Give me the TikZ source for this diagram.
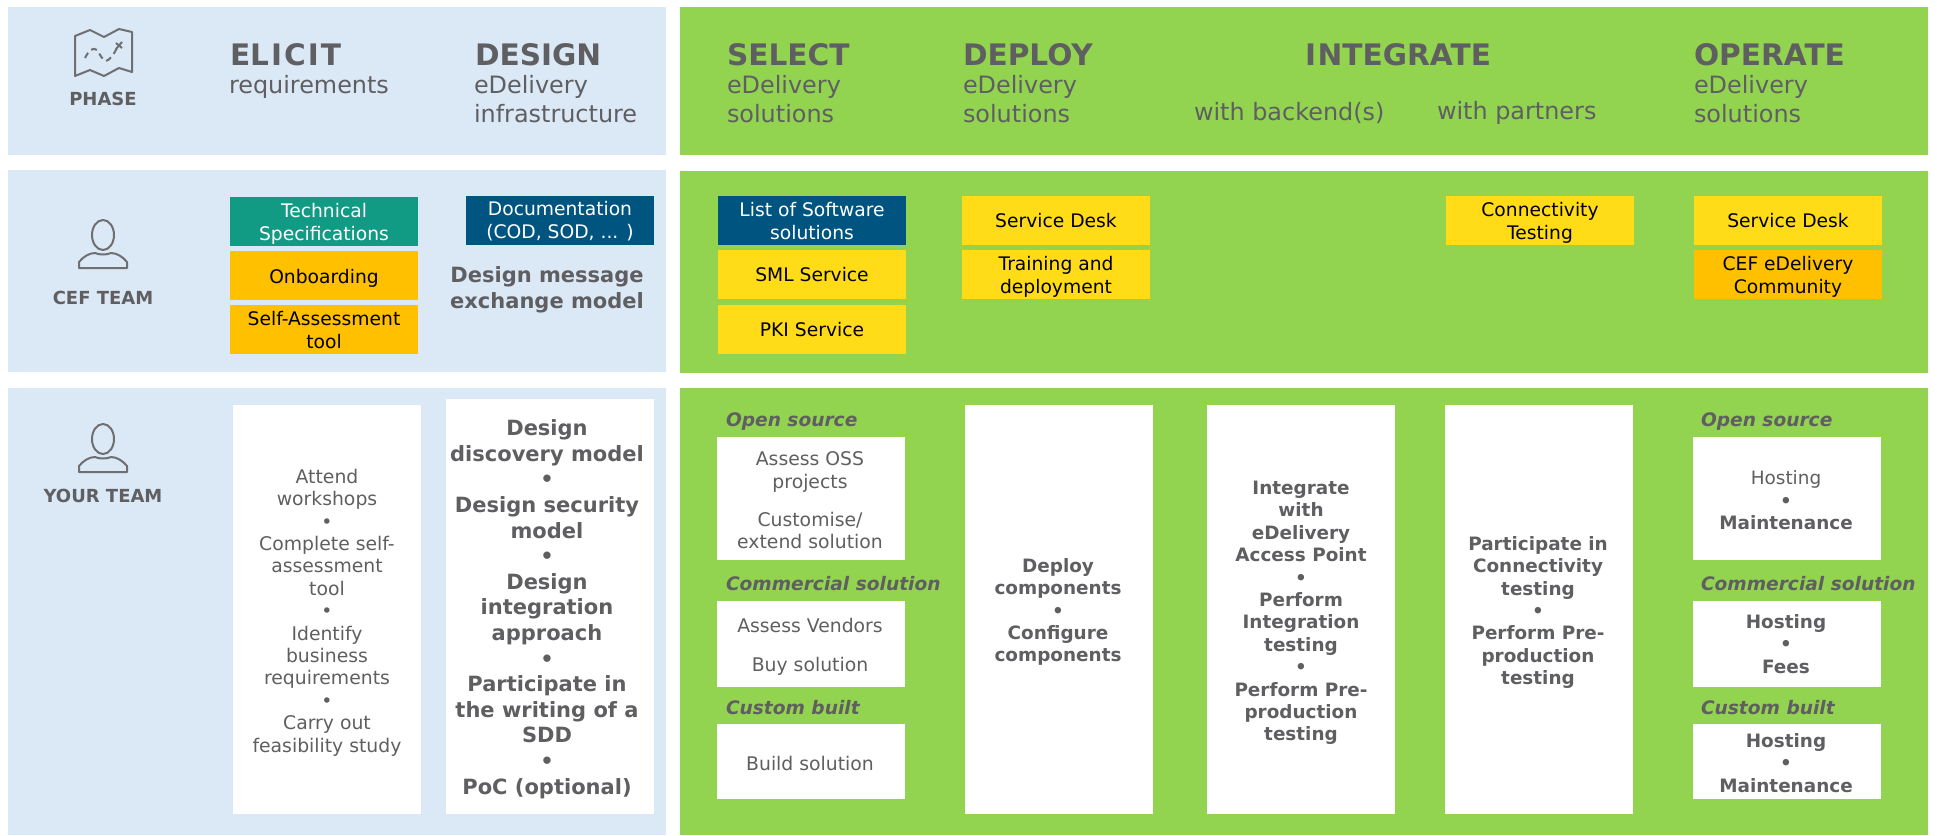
\documentclass[tikz,border=0pt]{standalone}
\usepackage{fontspec}
\setmainfont{DejaVu Sans}
\definecolor{panelblue}{HTML}{DBE8F6}
\definecolor{panelgreen}{HTML}{92D350}
\definecolor{tealbox}{HTML}{119B84}
\definecolor{navybox}{HTML}{005580}
\definecolor{amberbox}{HTML}{FFC000}
\definecolor{yellowbox}{HTML}{FFDC17}
\definecolor{greytext}{HTML}{5F5F62}
\tikzset{
  plain/.style={inner sep=0pt, outer sep=0pt, align=center, text=greytext},
  title/.style={plain, anchor=base west, font=\fontsize{14.8}{18}\selectfont\bfseries},
  subtitle/.style={plain, align=left, anchor=west, font=\fontsize{11.95}{14.3}\selectfont},
  rowlabel/.style={plain, font=\fontsize{9}{11}\selectfont\bfseries},
  kindlabel/.style={plain, anchor=west, font=\fontsize{9.3}{11}\selectfont\bfseries\itshape},
  lighttext/.style={plain, font=\fontsize{9.4}{11.2}\selectfont},
  boldtext/.style={plain, font=\fontsize{9.2}{11.2}\selectfont\bfseries},
  bigtext/.style={plain, font=\fontsize{10.5}{12.8}\selectfont\bfseries},
  boxtext/.style={plain, text=black, font=\fontsize{9.35}{11.4}\selectfont},
  whitetext/.style={plain, text=white, font=\fontsize{9.35}{11.4}\selectfont},
  icon/.style={draw=greytext!90!white, line width=1pt, line join=round},
  personicon/.pic={
    \draw [icon] (0,0) ellipse (11 and 15);
    \draw [icon] (-24,33) -- (-24,27) .. controls (-20,22) and (-14,18) .. (-8,18)
      .. controls (-4,20) and (4,20) .. (8,18) .. controls (14,18) and (20,22) .. (24,27)
      -- (24,33) -- cycle;
  }
}
\begin{document}
\begin{tikzpicture}[x=0.5pt,y=-0.5pt]
  \useasboundingbox (0,0) rectangle (1937,835);
  % panels
  \fill [panelblue] (8,7) rectangle (666,155);
  \fill [panelblue] (8,170) rectangle (666,372);
  \fill [panelblue] (8,388) rectangle (666,835);
  \fill [panelgreen] (680,7) rectangle (1928,155);
  \fill [panelgreen] (680,171) rectangle (1928,373);
  \fill [panelgreen] (680,388) rectangle (1928,835);
  % phase row
  \draw [icon] (75,36) -- (90,30) -- (104,37) -- (119,29) -- (132,32) -- (132,72)
    -- (119,68) -- (104,76) -- (90,70) -- (75,76) -- cycle;
  \draw [icon, dash pattern=on 3pt off 2.2pt] (85,58) .. controls (89,50) and (93,47) .. (97,50)
    .. controls (100,54) and (102,60) .. (106,61) .. controls (110,60) and (114,54) .. (117,48);
  \draw [icon] (116,43) -- (122,48) (122,42) -- (116,49);
  \node [rowlabel] (phase) at (103,99) {PHASE};
  \node [title] (elicit) at (230,65) {EL\kern1pt I\kern1pt C\kern1pt I\kern1pt T};
  \node [subtitle] (elicitsub) at (229,87) {requirements};
  \node [title] (design) at (475,65) {DESIGN};
  \node [subtitle] (designsub) at (474,99) {eDelivery\\infrastructure};
  \node [title] (select) at (727,65) {SELECT};
  \node [subtitle] (selectsub) at (727,99) {eDelivery\\solutions};
  \node [title] (deploy) at (963,65) {DEPLOY};
  \node [subtitle] (deploysub) at (963,99) {eDelivery\\solutions};
  \node [title, anchor=base] (integrate) at (1398,65) {I\kern.8pt NTEGRATE};
  \node [subtitle] (backends) at (1194,113) {with backend(s)};
  \node [subtitle] (partners) at (1437,113) {with partners};
  \node [title] (operate) at (1694,65) {OPERATE};
  \node [subtitle] (operatesub) at (1694,99) {eDelivery\\solutions};
  % cef team row
  \pic at (103,235) {personicon};
  \node [rowlabel] (cefteam) at (103,298) {CEF TEAM};
  \fill [tealbox] (230,197) rectangle (418,246);
  \node [whitetext] (techspec) at (324,223.5) {Technical\\Specifications};
  \fill [amberbox] (230,251) rectangle (418,300);
  \node [boxtext] (onboarding) at (324,278) {Onboarding};
  \fill [amberbox] (230,305) rectangle (418,354);
  \node [boxtext] (selfassess) at (324,330) {Self-Assessment\\tool};
  \fill [navybox] (466,196) rectangle (654,245);
  \node [whitetext] (documentation) at (560,221.5) {Documentation\\(COD, SOD, ... )};
  \node [bigtext] (messagemodel) at (547,289.5) {Design message\\exchange model};
  \fill [navybox] (718,196) rectangle (906,245);
  \node [whitetext] (softwarelist) at (812,221) {List of Software\\solutions};
  \fill [yellowbox] (718,250) rectangle (906,299);
  \node [boxtext] (smlservice) at (812,275) {SML Service};
  \fill [yellowbox] (718,305) rectangle (906,354);
  \node [boxtext] (pkiservice) at (812,330) {PKI Service};
  \fill [yellowbox] (962,196) rectangle (1150,245);
  \node [boxtext] (deskdeploy) at (1056,220.5) {Service Desk};
  \fill [yellowbox] (962,250) rectangle (1150,299);
  \node [boxtext] (training) at (1056,276.5) {Training and\\deployment};
  \fill [yellowbox] (1446,196) rectangle (1634,245);
  \node [boxtext] (connectivity) at (1540,222.5) {Connectivity\\Testing};
  \fill [yellowbox] (1694,196) rectangle (1882,245);
  \node [boxtext] (deskoperate) at (1788,220.5) {Service Desk};
  \fill [amberbox] (1694,250) rectangle (1882,299);
  \node [boxtext] (community) at (1788,276.5) {CEF eDelivery\\Community};
  % your team row
  \pic at (103,439) {personicon};
  \node [rowlabel] (yourteam) at (103,496) {YOUR TEAM};
  \fill [white] (233,405) rectangle (421,814);
  \node [lighttext] (elicittasks) at (327,612.5) {Attend\\workshops\\•\\Complete self-\\assessment\\tool\\•\\Identify\\business\\requirements\\•\\Carry out\\feasibility study};
  \fill [white] (446,399) rectangle (654,814);
  \node [bigtext] (designtasks) at (547,609) {Design\\discovery model\\•\\Design security\\model\\•\\Design\\integration\\approach\\•\\Participate in\\the writing of a\\SDD\\•\\PoC (optional)};
  \node [kindlabel] (selectopen) at (726,422) {Open source};
  \fill [white] (717,437) rectangle (905,560);
  \node [lighttext] (assessoss) at (810,500.5) {Assess OSS\\projects\\[8pt]Customise/\\extend solution};
  \node [kindlabel] (selectcommercial) at (726,583.5) {Commercial solution};
  \fill [white] (717,601) rectangle (905,687);
  \node [lighttext] (assessvendors) at (810,647) {Assess Vendors\\[8pt]Buy solution};
  \node [kindlabel] (selectcustom) at (726,707.5) {Custom built};
  \fill [white] (717,724) rectangle (905,799);
  \node [lighttext] (buildsolution) at (810,763) {Build solution};
  \fill [white] (965,405) rectangle (1153,814);
  \node [boldtext] (deploytasks) at (1058,612) {Deploy\\components\\•\\Configure\\components};
  \fill [white] (1207,405) rectangle (1395,814);
  \node [boldtext] (backendtasks) at (1301,613) {Integrate\\with\\eDelivery\\Access Point\\•\\Perform\\Integration\\testing\\•\\Perform Pre-\\production\\testing};
  \fill [white] (1445,405) rectangle (1633,814);
  \node [boldtext] (partnertasks) at (1538,612.5) {Participate in\\Connectivity\\testing\\•\\Perform Pre-\\production\\testing};
  \node [kindlabel] (operateopen) at (1701,422) {Open source};
  \fill [white] (1693,437) rectangle (1881,560);
  \node [boldtext] (hostingopen) at (1786,500.5) {{\mdseries Hosting}\\•\\Maintenance};
  \node [kindlabel] (operatecommercial) at (1701,583.5) {Commercial solution};
  \fill [white] (1693,601) rectangle (1881,687);
  \node [boldtext] (hostingcommercial) at (1786,644) {Hosting\\•\\Fees};
  \node [kindlabel] (operatecustom) at (1701,707.5) {Custom built};
  \fill [white] (1693,724) rectangle (1881,799);
  \node [boldtext] (hostingcustom) at (1786,763) {Hosting\\•\\Maintenance};
\end{tikzpicture}
\end{document}
